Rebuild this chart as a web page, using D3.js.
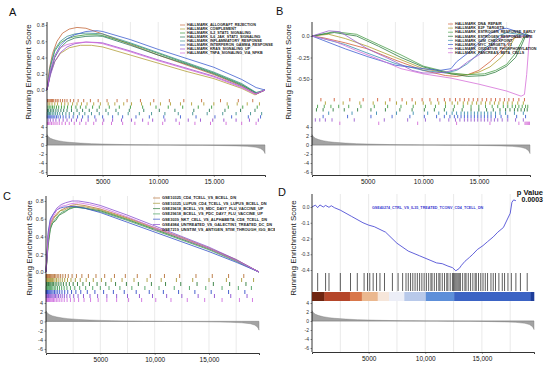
<!DOCTYPE html>
<html>
<head>
<meta charset="utf-8">
<script src="https://cdn.jsdelivr.net/npm/d3@7"></script>
<style>
body { margin: 0; background: #fff; }
svg { display: block; }
text { font-family: "Liberation Sans", Arial, sans-serif; }
</style>
</head>
<body>
<div class="chart"></div>
<script>
// ======================================
// data (gene ranks in thousands, ES values)
// ======================================
var nGenes = 19600;
var xTickVals = [5000, 10000, 15000];
var xTickLabels = ['5000', '10,000', '15,000'];
var metricTicks = [4, 2, 0, -2, -4, -6];

// ranked list metric (shared by every panel)
var metricRank  = [0, 0.1, 0.3, 0.6, 1, 1.5, 2, 3, 4, 5, 6, 7, 8, 9, 10, 11, 12, 13, 14, 15, 16, 17, 18, 18.8, 19.2, 19.45, 19.55, 19.6];
var metricValue = [2.3, 1.9, 1.5, 1.2, 0.95, 0.75, 0.6, 0.42, 0.3, 0.22, 0.15, 0.1, 0.06, 0.03, 0.01, -0.01, -0.03, -0.05, -0.07, -0.1, -0.14, -0.2, -0.3, -0.5, -0.8, -1.2, -1.6, -1.9];

// --- panel A ---
var namesA = ['HALLMARK_ALLOGRAFT_REJECTION', 'HALLMARK_COMPLEMENT', 'HALLMARK_IL2_STAT5_SIGNALING',
  'HALLMARK_IL6_JAK_STAT3_SIGNALING', 'HALLMARK_INFLAMMATORY_RESPONSE', 'HALLMARK_INTERFERON_GAMMA_RESPONSE',
  'HALLMARK_KRAS_SIGNALING_UP', 'HALLMARK_TNFA_SIGNALING_VIA_NFKB'];
var colorsA = ['#c46a3c', '#b3a03a', '#3a9a3a', '#2a7a5a', '#3f8f8f', '#3f5fd0', '#9a4fd0', '#d46ad8'];
var esTicksA = [0, 0.2, 0.4, 0.6, 0.8];
var esLabelsA = ['0.0', '0.2', '0.4', '0.6', '0.8'];
var curvesA = [
  [[0,0],[0.2,0.25],[0.5,0.45],[0.9,0.6],[1.4,0.7],[2.0,0.75],[2.7,0.77],[3.5,0.76],[5,0.69],[7.5,0.56],[10,0.43],[12.5,0.31],[15,0.19],[17.5,0.05],[18.8,-0.05],[19.6,0]],
  [[0,0],[0.3,0.2],[0.7,0.35],[1.2,0.45],[2.0,0.52],[3.0,0.55],[4.0,0.55],[5,0.53],[7.5,0.43],[10,0.33],[12.5,0.23],[15,0.14],[17.5,0.02],[18.7,-0.06],[19.6,0]],
  [[0,0],[0.3,0.28],[0.7,0.48],[1.2,0.58],[1.8,0.63],[2.5,0.66],[3.5,0.68],[4.5,0.68],[5,0.67],[7.5,0.57],[10,0.45],[12.5,0.33],[15,0.21],[17.5,0.07],[18.8,-0.04],[19.6,0]],
  [[0,0],[0.3,0.2],[0.7,0.4],[1.2,0.52],[1.8,0.6],[2.5,0.64],[3.5,0.66],[4.5,0.665],[5,0.66],[7.5,0.55],[10,0.43],[12.5,0.32],[15,0.2],[17.5,0.06],[18.9,-0.04],[19.6,0]],
  [[0,0],[0.3,0.3],[0.7,0.5],[1.2,0.6],[1.8,0.66],[2.5,0.69],[3.5,0.7],[4.5,0.695],[5,0.69],[7.5,0.58],[10,0.46],[12.5,0.34],[15,0.22],[17.5,0.08],[18.8,-0.03],[19.6,0]],
  [[0,0],[0.3,0.22],[0.7,0.42],[1.2,0.55],[1.8,0.63],[2.5,0.68],[3.5,0.72],[4.5,0.73],[5,0.72],[7.5,0.62],[10,0.5],[12.5,0.39],[15,0.28],[17.5,0.13],[18.8,0.03],[19.6,0]],
  [[0,0],[0.3,0.18],[0.7,0.35],[1.2,0.46],[1.8,0.53],[2.5,0.57],[3.5,0.59],[4.5,0.585],[5,0.58],[7.5,0.48],[10,0.37],[12.5,0.27],[15,0.17],[17.5,0.04],[18.8,-0.05],[19.6,0]],
  [[0,0],[0.3,0.24],[0.7,0.42],[1.2,0.52],[1.8,0.56],[2.5,0.58],[3.5,0.59],[4.5,0.58],[5,0.57],[7.5,0.47],[10,0.36],[12.5,0.26],[15,0.16],[17.5,0.03],[18.7,-0.05],[19.6,0]]
];
var hitsA = [
  [0.05,0.1,0.2,0.3,0.4,0.5,0.6,0.75,0.9,1.0,1.2,1.4,1.6,1.8,2.1,2.4,2.8,3.3,3.9,4.6,5.4,6.3,7.2,8.4,9.6,11.0,12.3,13.9,15.6,17.2,18.5],
  [0.1,0.25,0.45,0.7,0.95,1.3,1.6,1.9,2.3,2.7,3.1,3.6,4.2,4.8,5.5,6.1,6.9,7.6,8.5,9.3,10.2,11.1,12.0,13.0,14.1,15.0,16.2,17.1,18.0,19.1],
  [0.08,0.2,0.35,0.5,0.65,0.85,1.05,1.3,1.55,1.85,2.2,2.6,3.0,3.5,4.1,4.7,5.6,6.5,7.5,8.6,9.8,10.9,12.2,13.6,14.8,16.3,17.6,18.9],
  [0.05,0.15,0.3,0.45,0.6,0.8,1.0,1.25,1.5,1.8,2.2,2.7,3.2,3.8,4.5,5.3,6.2,7.4,8.7,10.1,11.5,13.2,14.6,16.0,17.4,18.7],
  [0.03,0.12,0.22,0.33,0.47,0.62,0.78,0.95,1.15,1.4,1.7,2.0,2.4,2.9,3.4,4.0,4.7,5.5,6.4,7.3,8.3,9.4,10.6,11.8,13.1,14.4,15.8,17.0,18.3,19.3],
  [0.02,0.1,0.18,0.26,0.35,0.45,0.56,0.7,0.85,1.0,1.2,1.45,1.7,2.0,2.35,2.75,3.2,3.7,4.3,5.0,5.9,6.8,8.0,9.2,10.5,12.0,13.4,15.1,16.6,18.1,19.2],
  [0.1,0.3,0.55,0.8,1.1,1.45,1.8,2.2,2.65,3.1,3.7,4.4,5.1,5.9,6.7,7.6,8.6,9.5,10.6,11.6,12.7,13.8,14.9,15.9,17.0,18.2,19.0],
  [0.04,0.14,0.26,0.4,0.55,0.72,0.9,1.1,1.35,1.65,2.0,2.45,2.95,3.5,4.2,5.0,5.8,6.8,7.9,9.1,10.4,11.9,13.3,14.7,16.1,17.5,18.8]
];

// --- panel B ---
var namesB = ['HALLMARK_DNA_REPAIR', 'HALLMARK_E2F_TARGETS', 'HALLMARK_ESTROGEN_RESPONSE_EARLY',
  'HALLMARK_ESTROGEN_RESPONSE_LATE', 'HALLMARK_G2M_CHECKPOINT', 'HALLMARK_MYC_TARGETS_V1',
  'HALLMARK_OXIDATIVE_PHOSPHORYLATION', 'HALLMARK_PANCREAS_BETA_CELLS'];
var colorsB = ['#d0603a', '#b0a030', '#4aa04a', '#2f7d3f', '#3a8fb0', '#3f5fd0', '#9a5fd0', '#d670d8'];
var esTicksB = [0, -0.25, -0.5];
var esLabelsB = ['0.0', '-0.25', '-0.50'];
var curvesB = [
  [[0,0],[1,-0.02],[3,-0.08],[5,-0.15],[7.5,-0.28],[10,-0.4],[12,-0.46],[13,-0.47],[14,-0.45],[15,-0.4],[16,-0.3],[16.8,-0.2],[17.5,-0.1],[18.2,-0.02],[19.6,0]],
  [[0,0],[1.5,0.02],[3,-0.03],[5,-0.12],[7.5,-0.25],[10,-0.38],[12.5,-0.44],[14,-0.45],[15,-0.42],[16,-0.36],[17,-0.25],[17.8,-0.12],[18.3,0.0],[18.6,0.03],[19.6,0]],
  [[0,0],[2,0.05],[4,0.02],[6,-0.1],[8,-0.22],[10,-0.35],[12.5,-0.43],[14,-0.45],[15.5,-0.44],[16.5,-0.4],[17.5,-0.33],[18.3,-0.2],[18.9,-0.05],[19.2,0.03],[19.6,0]],
  [[0,0],[2,0.04],[4,0.0],[6,-0.12],[8,-0.25],[10,-0.36],[12.5,-0.44],[14,-0.47],[15.5,-0.46],[16.5,-0.42],[17.5,-0.35],[18.3,-0.25],[18.8,-0.12],[19.2,0.0],[19.6,0]],
  [[0,0],[1,-0.03],[3,-0.1],[5,-0.2],[7.5,-0.32],[10,-0.4],[12,-0.43],[13,-0.4],[14,-0.32],[15,-0.2],[16,-0.1],[16.8,0.0],[17.5,0.04],[19.6,0]],
  [[0,0],[1,-0.05],[3,-0.15],[5,-0.24],[7.5,-0.34],[10,-0.38],[11.5,-0.4],[12.5,-0.38],[13,-0.3],[14,-0.2],[15,-0.08],[16,0.03],[17,0.08],[17.5,0.09],[18,0.07],[19.6,0]],
  [[0,0],[1.5,0.06],[2.5,0.05],[5,-0.15],[7.5,-0.3],[9,-0.4],[10,-0.43],[11,-0.43],[12,-0.42],[13.2,-0.38],[14,-0.3],[15,-0.22],[16,-0.12],[16.8,-0.03],[17.5,0.0],[19.6,0]],
  [[0,0],[2,-0.06],[4,-0.17],[6,-0.27],[8,-0.38],[10,-0.44],[12.5,-0.49],[15,-0.56],[17.5,-0.64],[18.8,-0.7],[19.1,-0.68],[19.3,-0.45],[19.5,-0.1],[19.6,0]]
];
var hitsB = [
  [0.8,2.0,3.4,4.6,5.9,7.0,8.1,9.0,9.9,10.6,11.3,11.9,12.4,12.9,13.3,13.7,14.1,14.5,14.9,15.3,15.7,16.1,16.5,16.9,17.3,17.7,18.1,18.6,19.1],
  [1.2,2.8,4.3,5.5,6.6,7.6,8.5,9.3,10.0,10.7,11.4,12.0,12.6,13.1,13.6,14.0,14.4,14.8,15.2,15.6,16.0,16.4,16.8,17.2,17.6,18.0,18.5,19.0],
  [0.5,1.1,1.7,2.4,3.3,4.4,5.6,6.8,8.0,9.1,10.2,11.1,12.0,12.8,13.6,14.3,15.0,15.6,16.2,16.7,17.2,17.6,18.0,18.3,18.6,18.9,19.2,19.4],
  [0.4,1.0,1.9,2.9,4.1,5.3,6.6,7.9,9.0,10.1,11.0,11.9,12.7,13.5,14.3,15.0,15.7,16.3,16.9,17.4,17.8,18.2,18.5,18.8,19.1,19.35],
  [1.5,3.6,5.8,7.6,9.1,10.4,11.4,12.1,12.6,13.0,13.4,13.7,14.0,14.3,14.6,14.9,15.2,15.5,15.8,16.1,16.5,16.9,17.4,18.2,19.0],
  [1.0,3.2,5.3,7.2,8.8,10.1,11.2,11.9,12.4,12.8,13.1,13.4,13.7,14.0,14.3,14.6,14.9,15.2,15.5,15.8,16.1,16.5,17.0,17.6,18.4,19.2],
  [0.3,0.7,1.2,1.8,3.8,6.5,8.6,10.2,11.5,12.3,12.9,13.3,13.7,14.0,14.3,14.6,14.9,15.2,15.5,15.8,16.1,16.4,16.7,17.1,17.6,18.3,19.0],
  [2.5,6.0,9.5,13.0,16.0,18.6,19.15,19.25,19.35,19.45,19.55]
];

// --- panel C ---
var namesC = ['GSE10325_CD4_TCELL_VS_BCELL_DN', 'GSE10325_LUPUS_CD4_TCELL_VS_LUPUS_BCELL_DN',
  'GSE29618_BCELL_VS_MDC_DAY7_FLU_VACCINE_UP', 'GSE29618_BCELL_VS_PDC_DAY7_FLU_VACCINE_UP',
  'GSE3039_NKT_CELL_VS_ALPHABETA_CD8_TCELL_DN', 'GSE4984_UNTREATED_VS_GALECTIN1_TREATED_DC_DN',
  'GSE7219_UNSTIM_VS_ANTIGEN_STIM_THROUGH_IGG_BCELL_DN'];
var colorsC = ['#b8733a', '#a89a3a', '#2f7a3a', '#4aa060', '#3450c8', '#8a4fd0', '#d070e0'];
var esTicksC = [0, 0.2, 0.4, 0.6, 0.8];
var esLabelsC = ['0.0', '0.2', '0.4', '0.6', '0.8'];
var curvesC = [
  [[0,0],[0.2,0.35],[0.4,0.52],[0.7,0.6],[1.0,0.66],[1.4,0.7],[1.8,0.72],[2.3,0.75],[2.8,0.76],[3.5,0.75],[5,0.71],[7.5,0.61],[10,0.5],[12.5,0.39],[15,0.27],[17.5,0.14],[19.6,0]],
  [[0,0],[0.2,0.4],[0.4,0.55],[0.7,0.62],[1.0,0.64],[1.3,0.69],[1.7,0.7],[2.2,0.73],[2.7,0.74],[3.5,0.735],[5,0.7],[7.5,0.6],[10,0.49],[12.5,0.38],[15,0.265],[17.5,0.13],[19.6,0]],
  [[0,0],[0.2,0.3],[0.4,0.48],[0.6,0.55],[0.9,0.58],[1.2,0.64],[1.5,0.66],[1.8,0.68],[2.2,0.72],[2.8,0.73],[3.5,0.72],[5,0.69],[7.5,0.59],[10,0.48],[12.5,0.37],[15,0.26],[17.5,0.13],[19.6,0]],
  [[0,0],[0.2,0.33],[0.4,0.5],[0.7,0.57],[1.0,0.62],[1.4,0.67],[1.8,0.69],[2.2,0.71],[2.6,0.73],[3.5,0.72],[5,0.68],[7.5,0.58],[10,0.47],[12.5,0.36],[15,0.25],[17.5,0.12],[19.6,0]],
  [[0,0],[0.2,0.45],[0.4,0.6],[0.7,0.66],[1.0,0.7],[1.3,0.72],[1.6,0.73],[2.0,0.735],[2.6,0.74],[3.5,0.72],[5,0.67],[7.5,0.56],[10,0.45],[12.5,0.34],[15,0.23],[17.5,0.11],[19.6,0]],
  [[0,0],[0.2,0.42],[0.4,0.58],[0.7,0.66],[1.0,0.72],[1.4,0.76],[1.8,0.78],[2.4,0.8],[3.0,0.8],[4,0.78],[5,0.75],[7.5,0.64],[10,0.52],[12.5,0.4],[15,0.28],[17.5,0.14],[19.6,0]],
  [[0,0],[0.2,0.38],[0.4,0.55],[0.7,0.63],[1.0,0.7],[1.4,0.74],[1.8,0.75],[2.3,0.77],[3.0,0.78],[4,0.76],[5,0.73],[7.5,0.62],[10,0.5],[12.5,0.38],[15,0.265],[17.5,0.13],[19.6,0]]
];
var hitsC = [
  [0.02,0.06,0.1,0.15,0.2,0.26,0.32,0.4,0.48,0.57,0.67,0.78,0.9,1.03,1.18,1.35,1.55,1.78,2.05,2.4,2.8,3.3,3.9,4.6,5.4,6.3,7.3,8.4,9.6,10.9,12.3,13.8,15.3,16.8,18.2],
  [0.03,0.08,0.13,0.19,0.25,0.33,0.41,0.5,0.6,0.71,0.83,0.97,1.12,1.3,1.5,1.72,1.98,2.3,2.7,3.15,3.7,4.35,5.1,6.0,7.0,8.1,9.3,10.6,12.0,13.5,15.0,16.6,18.0,19.1],
  [0.04,0.09,0.16,0.23,0.3,0.38,0.47,0.58,0.7,0.84,1.0,1.18,1.38,1.6,1.86,2.15,2.5,2.9,3.4,4.0,4.7,5.5,6.4,7.4,8.5,9.7,11.0,12.4,13.9,15.4,16.9,18.4],
  [0.02,0.07,0.12,0.18,0.25,0.33,0.42,0.52,0.63,0.76,0.9,1.06,1.24,1.44,1.67,1.93,2.25,2.65,3.1,3.65,4.3,5.0,5.8,6.8,7.9,9.1,10.4,11.8,13.2,14.7,16.2,17.7,18.9],
  [0.01,0.05,0.09,0.14,0.2,0.27,0.35,0.44,0.54,0.65,0.78,0.92,1.08,1.26,1.47,1.72,2.0,2.35,2.75,3.2,3.8,4.5,5.3,6.2,7.2,8.3,9.5,10.8,12.2,13.7,15.2,16.8,18.3],
  [0.02,0.06,0.11,0.17,0.23,0.3,0.38,0.46,0.55,0.65,0.76,0.88,1.01,1.15,1.31,1.49,1.69,1.92,2.2,2.55,2.95,3.45,4.05,4.75,5.6,6.5,7.5,8.6,9.8,11.1,12.5,14.0,15.5,17.0,18.5],
  [0.03,0.07,0.12,0.18,0.24,0.31,0.39,0.48,0.58,0.69,0.81,0.95,1.1,1.27,1.46,1.68,1.94,2.25,2.6,3.0,3.5,4.1,4.8,5.6,6.5,7.6,8.8,10.1,11.5,13.0,14.6,16.2,17.8,19.0]
];

// --- panel D ---
var nameD = 'GSE40274_CTRL_VS_IL35_TREATED_TCONV_CD4_TCELL_DN';
var colorD = '#3a3ad0';
var pValueD = '0.0003';
var esTicksD = [0, -0.1, -0.2, -0.3, -0.4];
var esLabelsD = ['0.0', '-0.1', '-0.2', '-0.3', '-0.4'];
var curveD = [[0,0],[0.3,0.012],[0.5,-0.004],[0.7,0.013],[1.0,0.0],[1.2,0.01],[1.5,-0.002],[1.7,0.008],[2.0,-0.005],[2.5,-0.02],[3.5,-0.06],[4.5,-0.1],[5.0,-0.115],[5.5,-0.125],[6.5,-0.16],[7.5,-0.23],[8.5,-0.28],[9.5,-0.31],[10.5,-0.34],[11.0,-0.355],[11.5,-0.36],[12.0,-0.375],[12.4,-0.385],[12.7,-0.405],[13.0,-0.39],[13.2,-0.37],[13.5,-0.345],[13.9,-0.32],[14.2,-0.3],[14.6,-0.27],[15.1,-0.245],[15.5,-0.22],[16.0,-0.19],[16.4,-0.16],[16.9,-0.13],[17.3,-0.07],[17.5,-0.04],[17.65,0.03],[17.8,0.045],[18.0,0.04]];
var hitsD = [0.5,1.2,1.5,2.5,3.4,4.0,4.6,4.9,5.1,5.4,5.7,6.0,6.4,7.1,7.6,8.0,8.3,8.5,8.7,8.9,9.1,9.3,9.5,9.7,9.9,10.1,10.3,10.5,10.6,10.8,11.0,11.2,11.3,11.5,11.7,11.9,12.0,12.2,12.4,12.5,12.6,12.7,12.8,12.9,13.0,13.1,13.3,13.5,13.6,13.8,14.0,14.2,14.4,14.5,14.7,14.9,15.1,15.3,15.5,15.8,16.0,16.2,16.5,16.8,17.0,17.3,17.6,18.0,18.4,19.0];
var barStartD = [0, 1.1, 3.35, 4.4, 5.8, 6.8, 8.15, 10.05, 12.55, 19.3];
var barEndD   = [1.1, 3.35, 4.4, 5.8, 6.8, 8.15, 10.05, 12.55, 19.3, 19.6];
var barColorD = ['#6e2410', '#b5462a', '#d9774a', '#ebb88f', '#f6e6da', '#eceef7', '#b8c9ea', '#5d8fd9', '#3b63c4', '#1e3e9a'];

// ======================================
// svg
// ======================================
var svg = d3.select('.chart').append('svg')
   .attr('width', 550)
   .attr('height', 368);

var metricData = metricRank.map(function(r, i){ return [r, metricValue[i]]; });

// ======================================
// one gsea panel (curves + rug + ranked metric)
// ======================================
function drawPanel(p){
   var g = svg.append('g').attr('clip-path', 'url(#' + p.id + ')');
   svg.append('clipPath').attr('id', p.id).append('rect')
      .attr('x', p.box[0]).attr('y', p.box[1]).attr('width', p.box[2]).attr('height', p.box[3]);

   var x = d3.scaleLinear().domain([0, nGenes]).range([p.left, p.right]);
   var yES = d3.scaleLinear().domain(p.esDomain).range(p.esRange);
   var yM = d3.scaleLinear().domain([4, -6]).range([p.m4, p.m6]);

   // vertical grid
   g.selectAll('line.grid')
      .data(d3.range(2500, nGenes, 2500))
      .enter().append('line')
      .attr('x1', function(d){ return x(d); })
      .attr('x2', function(d){ return x(d); })
      .attr('y1', p.top).attr('y2', p.bottom)
      .attr('stroke', '#dcdcdc').attr('stroke-width', 0.6);

   // metric area
   var area = d3.area()
      .x(function(d){ return x(d[0] * 1000); })
      .y0(yM(0))
      .y1(function(d){ return yM(d[1]); });
   g.append('path').datum(metricData)
      .attr('d', area)
      .attr('fill', '#a3a3a3')
      .attr('stroke', '#7a7a7a')
      .attr('stroke-width', 0.4);
   g.append('line')
      .attr('x1', p.left).attr('x2', p.right)
      .attr('y1', yM(0)).attr('y2', yM(0))
      .attr('stroke', '#8a8a8a').attr('stroke-width', 0.5);

   // rug of hits
   if (p.hits) {
      var rowH = (p.rugBottom - p.rugTop) / p.hits.length;
      p.hits.forEach(function(hs, i){
         g.append('g').selectAll('line')
            .data(hs).enter().append('line')
            .attr('x1', function(d){ return x(d * 1000); })
            .attr('x2', function(d){ return x(d * 1000); })
            .attr('y1', p.rugTop + i * rowH)
            .attr('y2', p.rugTop + (i + 1) * rowH)
            .attr('stroke', p.colors[i])
            .attr('stroke-width', 0.9);
      });
   }

   // running enrichment score curves
   var line = d3.line()
      .x(function(d){ return x(d[0] * 1000); })
      .y(function(d){ return yES(d[1]); });
   p.curves.forEach(function(c, i){
      g.append('path').datum(c)
         .attr('d', line)
         .attr('fill', 'none')
         .attr('stroke', p.colors[i])
         .attr('stroke-width', 0.8);
   });

   // legend
   if (p.names) {
      p.names.forEach(function(n, i){
         var ly = p.legY + i * p.legStep;
         g.append('line')
            .attr('x1', p.legX).attr('x2', p.legX + p.legLine)
            .attr('y1', ly).attr('y2', ly)
            .attr('stroke', p.colors[i]).attr('stroke-width', 0.7);
         g.append('text')
            .attr('x', p.legX + p.legLine + 2).attr('y', ly)
            .attr('dy', '0.35em')
            .attr('font-size', p.legFont + 'px')
            .attr('font-weight', 'bold')
            .attr('fill', '#222')
            .text(n);
      });
   }

   // y title (drawn first so tick labels stay on top)
   g.append('text')
      .attr('transform', 'translate(' + p.titleX + ',' + p.titleY + ') rotate(-90)')
      .attr('text-anchor', 'middle')
      .attr('font-size', '8px')
      .attr('fill', '#222')
      .text('Running Enrichment Score');

   // axes
   var axES = g.append('g').attr('transform', 'translate(' + p.left + ',0)')
      .call(d3.axisLeft(yES).tickValues(p.esTicks)
         .tickFormat(function(d, i){ return p.esLabels[i]; }).tickSize(1.5).tickPadding(1));
   var axM = g.append('g').attr('transform', 'translate(' + p.left + ',0)')
      .call(d3.axisLeft(yM).tickValues(metricTicks)
         .tickFormat(function(d){ return d < 0 ? '-' + Math.abs(d) : d; }).tickSize(1.5).tickPadding(1.5));
   [axES, axM].forEach(function(a){
      a.select('.domain').remove();
      a.selectAll('text').attr('font-size', p.tickFont + 'px').attr('fill', '#333')
         .attr('font-family', '"Liberation Sans", Arial, sans-serif');
      a.selectAll('.tick line').attr('stroke', '#333').attr('stroke-width', 0.5);
   });
   g.append('line')
      .attr('x1', p.left).attr('x2', p.left)
      .attr('y1', p.top).attr('y2', p.bottom)
      .attr('stroke', '#000').attr('stroke-width', 0.8);
   var axX = g.append('g').attr('transform', 'translate(0,' + p.bottom + ')')
      .call(d3.axisBottom(x).tickValues(xTickVals)
         .tickFormat(function(d, i){ return xTickLabels[i]; }).tickSize(2).tickPadding(2.5));
   axX.select('.domain').attr('stroke', '#000').attr('stroke-width', 0.8);
   axX.selectAll('text').attr('font-size', '6.5px').attr('fill', '#111')
      .attr('font-family', '"Liberation Sans", Arial, sans-serif');
   axX.selectAll('.tick line').attr('stroke', '#333').attr('stroke-width', 0.5);

   // panel letter
   g.append('text')
      .attr('x', p.letter[0]).attr('y', p.letter[1])
      .attr('font-size', '11px')
      .attr('fill', '#111')
      .text(p.letter[2]);

   return { g: g, x: x, yES: yES };
}

// ======================================
// panels
// ======================================
drawPanel({
   id: 'clipA', box: [0, 0, 275, 184],
   left: 47, right: 265, top: 22, bottom: 175,
   esDomain: [0, 0.8], esRange: [90, 25], esTicks: esTicksA, esLabels: esLabelsA,
   rugTop: 99, rugBottom: 125, m4: 127, m6: 172,
   curves: curvesA, hits: hitsA, colors: colorsA, names: namesA,
   legX: 180, legY: 25, legStep: 4, legLine: 5, legFont: 3.7, tickFont: 5.5,
   titleX: 31, titleY: 72, letter: [9, 16, 'A']
});

drawPanel({
   id: 'clipB', box: [275, 0, 275, 184],
   left: 312, right: 530, top: 22, bottom: 175,
   esDomain: [0, -0.5], esRange: [36, 79], esTicks: esTicksB, esLabels: esLabelsB,
   rugTop: 98, rugBottom: 125, m4: 127, m6: 172,
   curves: curvesB, hits: hitsB, colors: colorsB, names: namesB,
   legX: 448, legY: 24, legStep: 4.1, legLine: 5, legFont: 3.7, tickFont: 5.5,
   titleX: 291, titleY: 72, letter: [276, 15, 'B']
});

drawPanel({
   id: 'clipC', box: [0, 184, 275, 184],
   left: 46, right: 259, top: 196, bottom: 353,
   esDomain: [0, 0.8], esRange: [272, 201], esTicks: esTicksC, esLabels: esLabelsC,
   rugTop: 274, rugBottom: 302, m4: 303, m6: 349,
   curves: curvesC, hits: hitsC, colors: colorsC, names: namesC,
   legX: 153, legY: 198, legStep: 5.3, legLine: 7, legFont: 3.9, tickFont: 5.5,
   titleX: 32, titleY: 248, letter: [3, 200, 'C']
});

var pd = drawPanel({
   id: 'clipD', box: [275, 184, 275, 184],
   left: 312, right: 534, top: 194, bottom: 352,
   esDomain: [0, -0.4], esRange: [207, 270], esTicks: esTicksD, esLabels: esLabelsD,
   rugTop: 273, rugBottom: 291, m4: 303, m6: 348,
   curves: [curveD], hits: null, colors: [colorD], names: null, tickFont: 5,
   titleX: 296, titleY: 248, letter: [278, 196, 'D']
});

// panel D extras: colour bar, black hit lines, label, p value
pd.g.append('g').selectAll('rect')
   .data(barColorD).enter().append('rect')
   .attr('x', function(d, i){ return pd.x(barStartD[i] * 1000); })
   .attr('width', function(d, i){ return pd.x(barEndD[i] * 1000) - pd.x(barStartD[i] * 1000) + 0.3; })
   .attr('y', 292).attr('height', 9)
   .attr('fill', function(d){ return d; });

pd.g.append('g').selectAll('line')
   .data(hitsD).enter().append('line')
   .attr('x1', function(d){ return pd.x(d * 1000); })
   .attr('x2', function(d){ return pd.x(d * 1000); })
   .attr('y1', 273).attr('y2', 291)
   .attr('stroke', '#1a1a1a').attr('stroke-width', 0.7);

pd.g.append('text')
   .attr('x', 372).attr('y', 208)
   .attr('dy', '0.35em')
   .attr('font-size', '3.7px').attr('font-weight', 'bold')
   .attr('fill', colorD)
   .text(nameD);

pd.g.append('text')
   .attr('x', 543).attr('y', 195)
   .attr('text-anchor', 'end')
   .attr('font-size', '7.5px').attr('font-weight', 'bold')
   .attr('fill', '#111')
   .text('p Value');
pd.g.append('text')
   .attr('x', 543).attr('y', 202)
   .attr('text-anchor', 'end')
   .attr('font-size', '7px').attr('font-weight', 'bold')
   .attr('fill', '#111')
   .text(pValueD);
</script>
</body>
</html>
